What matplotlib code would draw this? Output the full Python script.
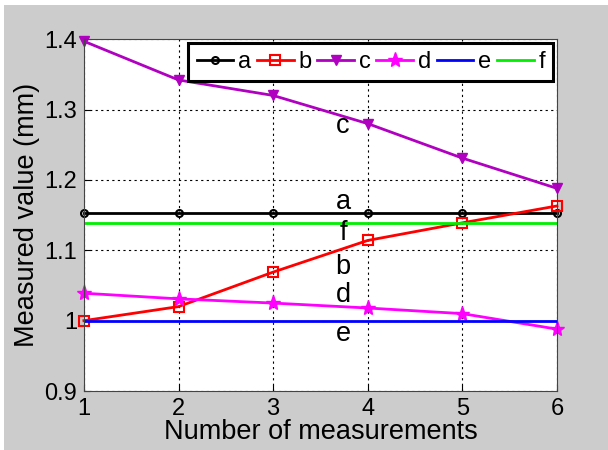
import numpy as np
import matplotlib.pyplot as plt
from matplotlib.patches import Rectangle

plt.rcParams['font.family'] = ['Liberation Sans', 'DejaVu Sans']

n_meas = [1, 2, 3, 4, 5, 6]
a = [1.153, 1.153, 1.153, 1.153, 1.153, 1.153]
b = [1.000, 1.020, 1.069, 1.114, 1.139, 1.163]
c = [1.397, 1.342, 1.320, 1.280, 1.231, 1.188]
d = [1.039, 1.031, 1.025, 1.018, 1.010, 0.988]
e = [1.000, 1.000, 1.000, 1.000, 1.000, 1.000]
f = [1.139, 1.139, 1.139, 1.139, 1.139, 1.139]

# inline labels next to the curves
lab_names = ['c', 'a', 'f', 'b', 'd', 'e']
lab_x = [3.74, 3.74, 3.74, 3.74, 3.74, 3.74]
lab_y = [1.276, 1.168, 1.124, 1.076, 1.037, 0.981]

fig = plt.figure(figsize=(6.08, 4.5), dpi=100)
fig.patch.set_facecolor('white')
fig.patches.append(Rectangle((4/608, 0), 1, 1 - 5/450, transform=fig.transFigure,
                             facecolor='#cccccc', edgecolor='none', zorder=-10))
ax = fig.add_axes([0.138, 0.131, 0.778, 0.782])

ax.plot(n_meas, a, color='black', lw=2, marker='o', ms=5, mfc='none', mew=1.5, label='a', clip_on=False)
ax.plot(n_meas, b, color='red', lw=2, marker='s', ms=7, mfc='none', mew=1.5, label='b', clip_on=False)
ax.plot(n_meas, c, color='#b000c0', lw=2, marker='v', ms=7, label='c', clip_on=False)
ax.plot(n_meas, d, color='#ff00ff', lw=2, marker='*', ms=11, label='d', clip_on=False)
ax.plot(n_meas, e, color='#0000ff', lw=2, label='e')
ax.plot(n_meas, f, color='#00ee00', lw=2, label='f')

for name, x, y in zip(lab_names, lab_x, lab_y):
    ax.text(x, y, name, fontsize=19.5, ha='center', va='center')

ax.set_xlim(1, 6)
ax.set_ylim(0.9, 1.4)
ax.set_xticks([1, 2, 3, 4, 5, 6])
ax.set_yticks([0.9, 1.0, 1.1, 1.2, 1.3, 1.4])
ax.set_yticklabels(['0.9', '1', '1.1', '1.2', '1.3', '1.4'])
ax.tick_params(direction='in', labelsize=17, length=4, pad=5)
ax.grid(True, linestyle=(0, (2, 3)), color='black', lw=0.8)
for s in ax.spines.values():
    s.set_color('#444444')

ax.set_xlabel('Number of measurements', fontsize=19.5, labelpad=-1)
ax.set_ylabel('Measured value (mm)', fontsize=19.5, labelpad=3)

leg = ax.legend(loc='upper right', ncol=6, fontsize=17, fancybox=False, framealpha=1,
                edgecolor='black', handlelength=1.55, handletextpad=0.2, columnspacing=0.25,
                borderpad=0.35, borderaxespad=0.15)
leg.get_frame().set_linewidth(2.2)

plt.savefig('out.png', dpi=100, facecolor=fig.get_facecolor())
plt.close()
